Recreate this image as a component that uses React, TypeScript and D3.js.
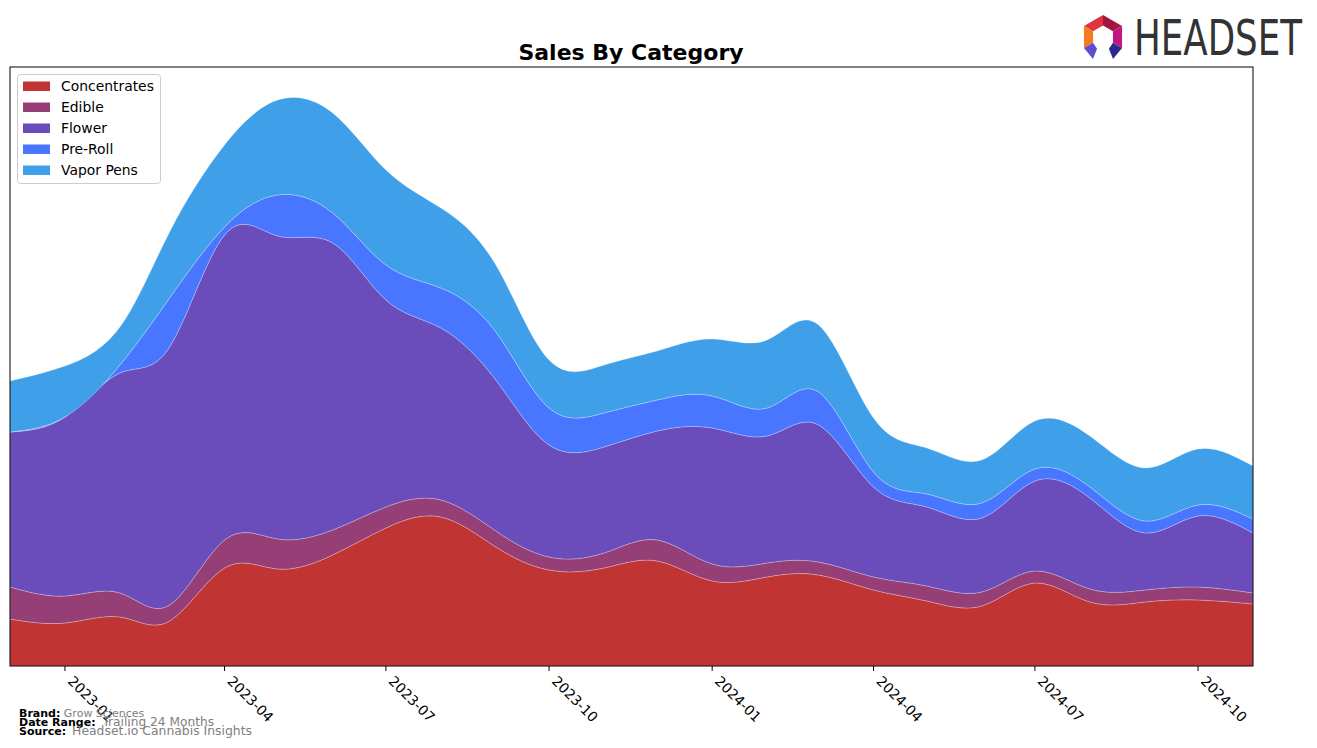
import React from "react";
import * as d3 from "d3";

const months = [
  "2022-12", "2023-01", "2023-02", "2023-03", "2023-04", "2023-05", "2023-06", "2023-07",
  "2023-08", "2023-09", "2023-10", "2023-11", "2023-12", "2024-01", "2024-02", "2024-03",
  "2024-04", "2024-05", "2024-06", "2024-07", "2024-08", "2024-09", "2024-10", "2024-11",
];
const concentrates = [47, 43, 49, 45, 98, 97, 111, 138, 149, 119, 96, 98, 105, 85, 89, 91, 76, 65, 60, 83, 64, 64, 66, 62];
const edible = [32, 27, 24, 16, 28, 30, 25, 21, 17, 16, 13, 15, 21, 17, 14, 13, 13, 15, 14, 12, 13, 12, 13, 11];
const flower = [155, 179, 220, 258, 305, 303, 287, 207, 172, 151, 112, 106, 109, 136, 127, 137, 90, 79, 74, 90, 91, 57, 71, 60];
const preRoll = [0, 0, 8, 49, 8, 41, 30, 35, 40, 48, 37, 34, 31, 32, 28, 33, 15, 13, 15, 12, 11, 12, 11, 14];
const vaporPens = [51, 51, 38, 66, 82, 95, 100, 95, 80, 67, 48, 48, 49, 57, 68, 67, 54, 46, 43, 48, 51, 53, 56, 53];

const categories = ["Concentrates", "Edible", "Flower", "Pre-Roll", "Vapor Pens"];
const colors = ["#C13434", "#963F76", "#6A4DBB", "#4876FF", "#3FA0E9"];
const tickLabels = ["2023-01", "2023-04", "2023-07", "2023-10", "2024-01", "2024-04", "2024-07", "2024-10"];

const seriesValues = [concentrates, edible, flower, preRoll, vaporPens];

export default function App() {
  const W = 1317, H = 748;
  const left = 10, right = 1253, top = 67, bottom = 666;
  const parse = d3.timeParse("%Y-%m");
  const rows = months.map((m, i) => {
    const r: any = { date: parse(m) };
    categories.forEach((c, k) => (r[c] = seriesValues[k][i]));
    return r;
  });
  const x = d3.scaleTime().domain([parse(months[0])!, parse(months[months.length - 1])!]).range([left, right]);
  const y = d3.scaleLinear().domain([0, 599]).range([bottom, top]);
  const stack = d3.stack().keys(categories)(rows as any);
  const area = d3
    .area<any>()
    .x((d) => x(d.data.date))
    .y0((d) => y(d[0]))
    .y1((d) => y(d[1]))
    .curve(d3.curveNatural);

  const font = "DejaVu Sans, sans-serif";

  const cx = 1103, cy = 37, R = 22, r = 11.5;
  const pt = (rad: number, a: number) => [cx + rad * Math.cos((a * Math.PI) / 180), cy + rad * Math.sin((a * Math.PI) / 180)];
  const seg = (a0: number, a1: number) => {
    const p = [pt(R, a0), pt(R, a1), pt(r, a1), pt(r, a0)];
    return p.map((q) => q.join(",")).join(" ");
  };
  const logoSegs = [
    { a0: 210, a1: 270, c: "#E0343F" },
    { a0: 270, a1: 330, c: "#A3173F" },
    { a0: 330, a1: 390, c: "#C0187E" },
    { a0: 150, a1: 210, c: "#F47B20" },
  ];
  const legL = pt(R, 150), legLi = pt(r, 150);
  const legR = pt(R, 30), legRi = pt(r, 30);

  return (
    <div style={{ position: "absolute", left: 0, top: 0 }}>
      <svg width={W} height={H} style={{ display: "block", background: "#fff" }}>
        <defs>
          <clipPath id="plotclip">
            <rect x={left} y={top} width={right - left} height={bottom - top} />
          </clipPath>
        </defs>
        <g clipPath="url(#plotclip)">
          {stack.map((s, k) => (
            <path key={k} d={area(s as any) || ""} fill={colors[k]} stroke="#ffffff" strokeOpacity={0.3} strokeWidth={0.8} />
          ))}
        </g>
        <rect x={left} y={top} width={right - left} height={bottom - top} fill="none" stroke="#000" strokeWidth={1} />
        <text x={631} y={60} textAnchor="middle" fontFamily={font} fontWeight="bold" fontSize={22} fill="#000">
          Sales By Category
        </text>
        {tickLabels.map((t) => {
          const tx = x(parse(t)!);
          return (
            <g key={t}>
              <line x1={tx} x2={tx} y1={bottom} y2={bottom + 5} stroke="#000" strokeWidth={1} />
              <g transform={`translate(${tx + 9},${bottom + 9}) rotate(45)`}>
                <text x={0} y={10} fontFamily={font} fontSize={13.9} fill="#000">
                  {t}
                </text>
              </g>
            </g>
          );
        })}
        <rect x={17.5} y={74.5} width={143} height={109} rx={3} fill="#fff" fillOpacity={0.8} stroke="#ccc" strokeWidth={1} />
        {categories.map((c, k) => (
          <g key={c}>
            <rect x={23} y={81.5 + k * 21} width={27} height={9.5} fill={colors[k]} />
            <text x={61} y={91 + k * 21} fontFamily={font} fontSize={13.9} fill="#000">
              {c}
            </text>
          </g>
        ))}
        <text x={19} y={717} fontFamily={font} fontSize={11}>
          <tspan fontWeight="bold" fill="#000">Brand:</tspan>
          <tspan fill="#808080" fontSize={11}> Grow Sciences</tspan>
        </text>
        <text x={19} y={726} fontFamily={font} fontSize={11}>
          <tspan fontWeight="bold" fill="#000">Date Range:</tspan>
          <tspan fill="#808080" fontSize={12.2} dx={3}> Trailing 24 Months</tspan>
        </text>
        <text x={19} y={735} fontFamily={font} fontSize={11}>
          <tspan fontWeight="bold" fill="#000">Source:</tspan>
          <tspan fill="#808080" fontSize={12.4} dx={2}> Headset.io Cannabis Insights</tspan>
        </text>
        <g>
          {logoSegs.map((s, i) => (
            <polygon key={i} points={seg(s.a0, s.a1)} fill={s.c} />
          ))}
          <polygon
            points={[legL, legLi, [legLi[0] + 4, legLi[1] + 6], [cx - 10, 59]].map((q) => q.join(",")).join(" ")}
            fill="#5B4FD0"
          />
          <polygon
            points={[legR, legRi, [legRi[0] - 4, legRi[1] + 6], [cx + 10, 59]].map((q) => q.join(",")).join(" ")}
            fill="#2C2A8E"
          />
        </g>
        <text x={1134} y={55} fontFamily="DejaVu Sans Condensed, DejaVu Sans, sans-serif" fontSize={49} fill="#333" textLength={168} lengthAdjust="spacingAndGlyphs">
          HEADSET
        </text>
      </svg>
    </div>
  );
}
